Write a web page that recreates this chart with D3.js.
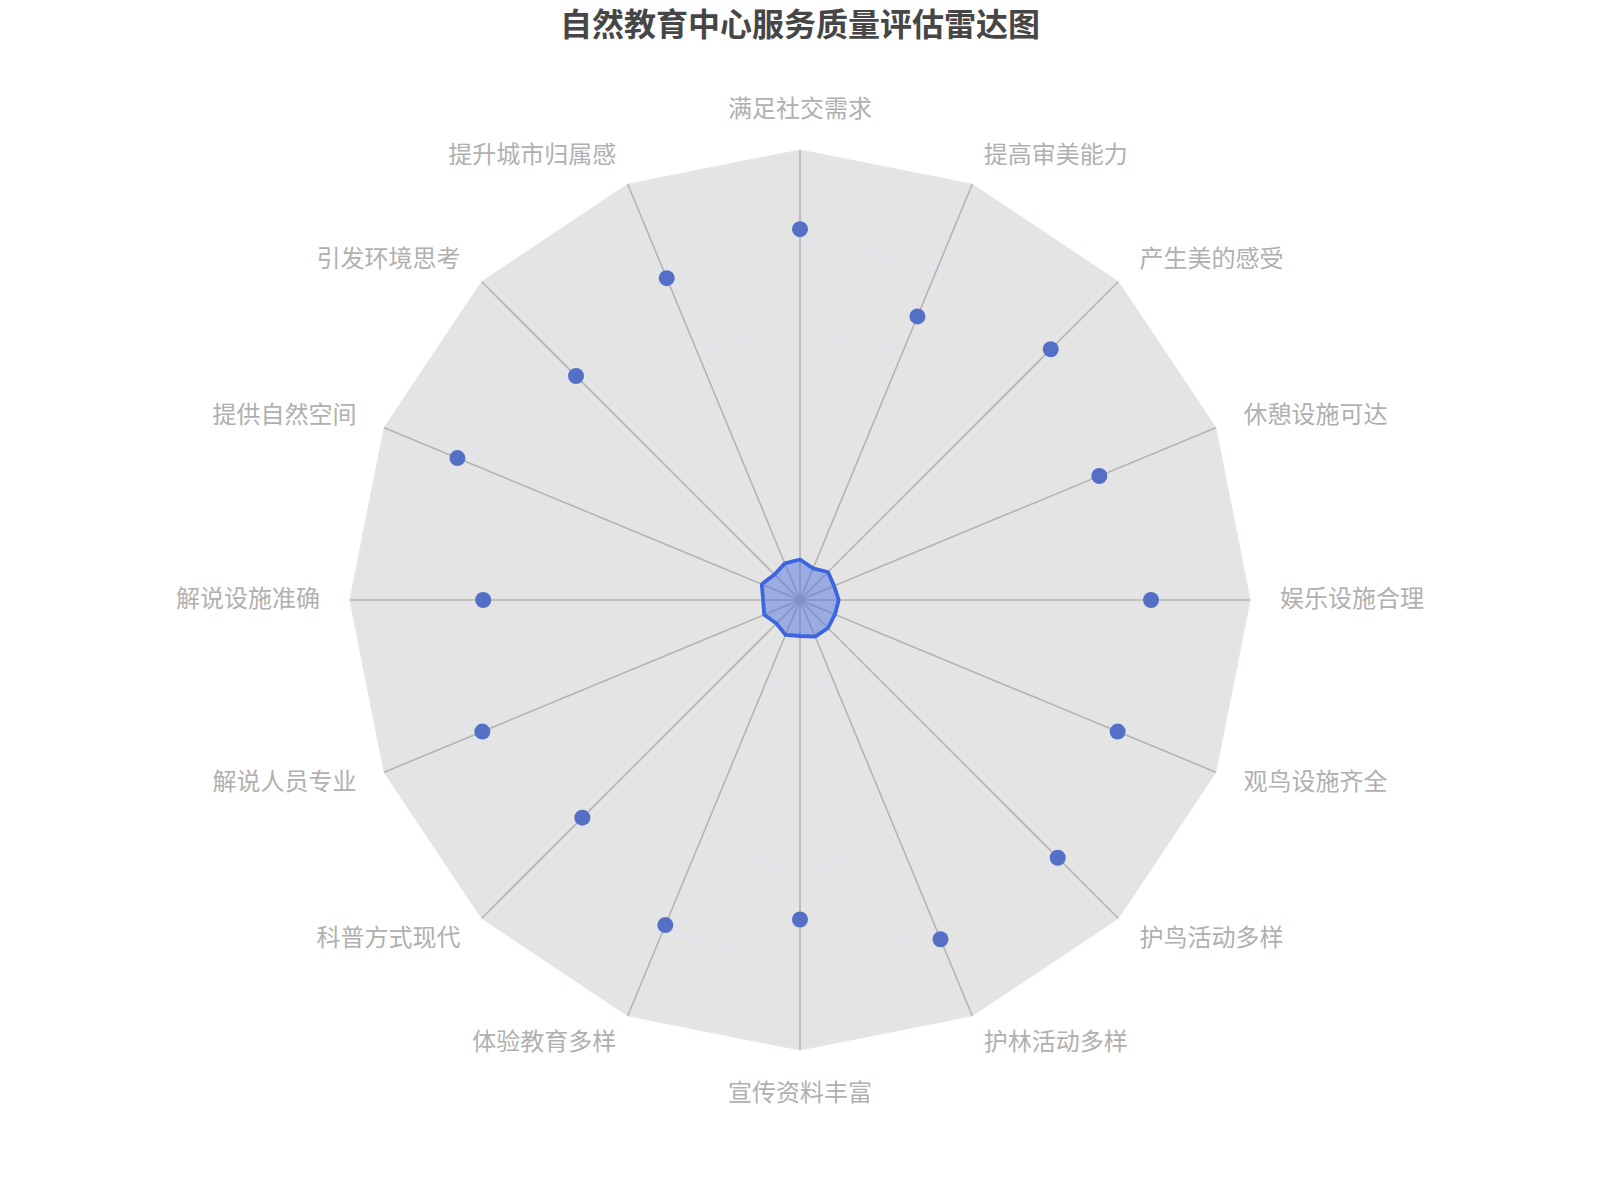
<!DOCTYPE html>
<html>
<head>
<meta charset="utf-8">
<script src="https://cdn.jsdelivr.net/npm/d3@7/dist/d3.min.js"></script>
<style>
    html, body { margin: 0; padding: 0; background: #ffffff; }
    #chart { display: block; }
    text { font-family: "Noto Sans CJK SC", "Noto Sans", sans-serif; }
</style>
</head>
<body>
<svg id="chart"></svg>
<script>
(function () {
    // indicators, clockwise from the top
    const indicators = [
        "满足社交需求", "提高审美能力", "产生美的感受", "休憩设施可达",
        "娱乐设施合理", "观鸟设施齐全", "护鸟活动多样", "护林活动多样",
        "宣传资料丰富", "体验教育多样", "科普方式现代", "解说人员专业",
        "解说设施准确", "提供自然空间", "引发环境思考", "提升城市归属感"
    ];
    // mean score per indicator (shown as dots)
    const meanScores = [
        4.12, 3.41, 3.94, 3.60, 3.90, 3.82, 4.05, 4.08,
        3.55, 3.91, 3.42, 3.82, 3.52, 4.12, 3.52, 3.87
    ];
    // spread per indicator (filled polygon near the centre)
    const spreadScores = [
        0.45, 0.38, 0.44, 0.41, 0.43, 0.42, 0.44, 0.44,
        0.40, 0.42, 0.37, 0.43, 0.41, 0.46, 0.40, 0.44
    ];
    const maxValue = 5;
    const splitNumber = 5;
    const title = "自然教育中心服务质量评估雷达图";

    const width = 1600;
    const height = 1200;
    const cx = 800, cy = 600;
    const radius = 450;

    const svg = d3.select("#chart")
        .attr("width", width)
        .attr("height", height);

    svg.append("text")
        .attr("x", cx)
        .attr("y", 22)
        .attr("text-anchor", "middle")
        .attr("dominant-baseline", "central")
        .style("font-size", "32px")
        .style("font-weight", "bold")
        .style("fill", "#464646")
        .text(title);

    const r = d3.scaleLinear().domain([0, maxValue]).range([0, radius]);
    const angle = d3.scaleLinear()
        .domain([0, indicators.length])
        .range([0, 2 * Math.PI]);

    const g = svg.append("g").attr("transform", `translate(${cx},${cy})`);

    const pointAt = (i, v) => {
        const a = angle(i);
        return [r(v) * Math.sin(a), -r(v) * Math.cos(a)];
    };

    const ring = d3.lineRadial()
        .angle((d, i) => angle(i))
        .radius(d => r(d))
        .curve(d3.curveLinearClosed);

    // split area
    g.append("path")
        .attr("d", ring(indicators.map(() => maxValue)))
        .attr("fill", "#e4e4e4")
        .attr("stroke", "none");

    // split lines
    const levels = d3.range(1, splitNumber + 1).map(k => k * maxValue / splitNumber);
    g.selectAll(".split")
        .data(levels)
        .enter().append("path")
        .attr("class", "split")
        .attr("d", lv => ring(indicators.map(() => lv)))
        .attr("fill", "none")
        .attr("stroke", "#e0e6f1")
        .attr("stroke-width", 1.2);

    // axis lines
    g.selectAll(".axis")
        .data(indicators)
        .enter().append("line")
        .attr("class", "axis")
        .attr("x1", 0).attr("y1", 0)
        .attr("x2", (d, i) => pointAt(i, maxValue)[0])
        .attr("y2", (d, i) => pointAt(i, maxValue)[1])
        .attr("stroke", "#b4b4b4")
        .attr("stroke-width", 1.6);

    // indicator names
    const nameGap = 30;
    g.selectAll(".name")
        .data(indicators)
        .enter().append("text")
        .attr("class", "name")
        .each(function (d, i) {
            const a = angle(i);
            const s = Math.sin(a), c = Math.cos(a);
            const rr = radius + nameGap;
            const x = rr * s, y = -rr * c;
            let anchor = "middle", shift = -4;
            if (Math.abs(s) > 0.01) anchor = s > 0 ? "start" : "end";
            else shift = c > 0 ? -14 : 10;
            d3.select(this)
                .attr("x", x)
                .attr("y", y + shift)
                .attr("text-anchor", anchor)
                .attr("dominant-baseline", "central");
        })
        .style("font-size", "24px")
        .style("fill", "#b0b0b0")
        .text(d => d);

    // spread polygon
    g.append("path")
        .attr("d", ring(spreadScores))
        .attr("fill", "#4169e1")
        .attr("fill-opacity", 0.45)
        .attr("stroke", "#3d65e0")
        .attr("stroke-width", 3.8)
        .attr("stroke-linejoin", "round");

    // mean dots
    g.selectAll(".dot")
        .data(meanScores)
        .enter().append("circle")
        .attr("class", "dot")
        .attr("cx", (v, i) => pointAt(i, v)[0])
        .attr("cy", (v, i) => pointAt(i, v)[1])
        .attr("r", 8)
        .attr("fill", "#5470c6");
})();
</script>
</body>
</html>
